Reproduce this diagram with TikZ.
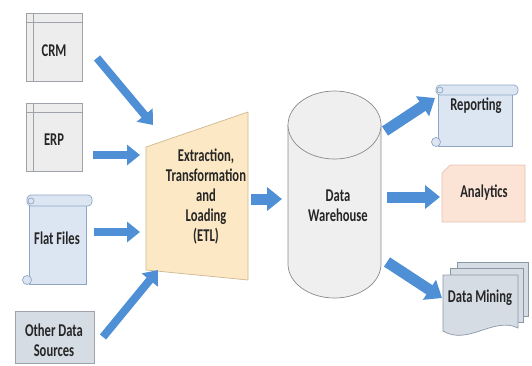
\documentclass[tikz,border=0pt]{standalone}
\usepackage{fontspec}
\setmainfont{Carlito}
\newfontfamily\lblfont{Carlito}[FakeStretch=0.7]
\usepackage{tikz}
\usetikzlibrary{arrows.meta}

\definecolor{flowblue}{HTML}{4F8FD5}
\definecolor{textdark}{HTML}{262626}
\definecolor{storefill}{HTML}{EDEDED}
\definecolor{storeline}{HTML}{9EA3AA}
\definecolor{scrollfill}{HTML}{DCE6F2}
\definecolor{scrollline}{HTML}{8EA6C4}
\definecolor{etlfill}{HTML}{FCE8C4}
\definecolor{etlline}{HTML}{CDB98F}
\definecolor{dwfill}{HTML}{EFEFEF}
\definecolor{dwline}{HTML}{8A8A8A}
\definecolor{cardfill}{HTML}{FBE3D6}
\definecolor{cardline}{HTML}{E6C5B2}
\definecolor{docfill}{HTML}{D6DCE4}
\definecolor{docline}{HTML}{8C97A6}

\begin{document}
\begin{tikzpicture}[x=1pt,y=-1pt,
  lbl/.style={font=\lblfont\bfseries\fontsize{18}{20}\selectfont,text=textdark,align=center,inner sep=0pt},
  store/.style={fill=storefill,draw=storeline,line width=0.7pt},
  scroll/.style={fill=scrollfill,draw=scrollline,line width=0.7pt},
  doc/.style={fill=docfill,draw=docline,line width=0.7pt},
  flow/.style={flowblue,line width=8pt,-{Triangle[length=13pt,width=20pt]}},
  bigflow/.style={flowblue,line width=11pt,-{Triangle[length=15pt,width=23pt]}}]

\useasboundingbox (0,0) rectangle (532,365);

% sources
\draw[store] (26,13) rectangle (82,81);
\draw[storeline,line width=0.7pt] (33,13) -- (33,81);
\draw[storeline,line width=0.7pt] (26,22) -- (82,22);
\draw[store] (26,103) rectangle (82,171);
\draw[storeline,line width=0.7pt] (33,103) -- (33,171);
\draw[storeline,line width=0.7pt] (26,112) -- (82,112);

\draw[scroll] (29,200) rectangle (86,284);
\draw[scroll,rounded corners=4pt] (27,195) rectangle (92,206);
\draw[scroll] (31,201) circle (3);
\draw[scroll] (27,280) circle (4.5);

\draw[fill=docfill,draw=storeline,line width=0.7pt] (15,311) rectangle (94,363);

\node[lbl] (crm) at (54,51) {CRM};
\node[lbl] (erp) at (54,140) {ERP};
\node[lbl] (flat) at (57,238) {Flat Files};
\node[lbl] (other) at (54,340) {Other Data\\Sources};

% ETL
\draw[fill=etlfill,draw=etlline,line width=0.7pt] (146,147) -- (248,112) -- (248,280) -- (146,270) -- cycle;
\node[lbl] (etl) at (206,197) {Extraction,\\Transformation\\and\\Loading\\(ETL)};

% warehouse
\draw[fill=dwfill,draw=dwline,line width=0.7pt] (288,125) -- (288,264)
  arc[start angle=180,end angle=360,x radius=46.5pt,y radius=34pt] -- (381,125);
\draw[fill=dwfill,draw=dwline,line width=0.7pt] (334.5,125) ellipse (46.5pt and 34pt);
\node[lbl] (dw) at (338,206) {Data\\Warehouse};

% targets
\draw[scroll] (438,90) rectangle (512,146);
\draw[scroll,rounded corners=4pt] (436,85) rectangle (518,95);
\draw[scroll] (440,90) circle (3);
\draw[scroll] (436,142) circle (4.5);
\node[lbl] (rep) at (476,106) {Reporting};

\draw[fill=cardfill,draw=cardline,line width=0.7pt] (450,165) -- (525,165) -- (525,222) -- (442,222) -- (442,173) -- cycle;
\node[lbl] (ana) at (484,193) {Analytics};

\draw[doc] (457,262) rectangle (528,316);
\draw[doc] (450,268) rectangle (523,322);
\draw[doc] (443,275) -- (518,275) -- (518,328)
  .. controls (494,316) and (468,346) .. (443,331) -- cycle;
\node[lbl] (dm) at (480,298) {Data Mining};

% arrows
\coordinate (crm-out) at (97,58);
\coordinate (etl-a) at (153,125);
\coordinate (erp-out) at (93,155);
\coordinate (etl-b) at (140,155);
\coordinate (flat-out) at (94,232);
\coordinate (etl-c) at (140,232);
\coordinate (other-out) at (103,337);
\coordinate (etl-d) at (158,270);
\coordinate (etl-out) at (251,199);
\coordinate (dw-in) at (282,199);
\coordinate (dw-a) at (385,131);
\coordinate (rep-in) at (435,98);
\coordinate (dw-b) at (387,197);
\coordinate (ana-in) at (440,197);
\coordinate (dw-c) at (387,262);
\coordinate (dm-in) at (442,298);

\draw[flow] (crm-out) -- (etl-a);
\draw[flow] (erp-out) -- (etl-b);
\draw[flow] (flat-out) -- (etl-c);
\draw[flow] (other-out) -- (etl-d);
\draw[bigflow] (etl-out) -- (dw-in);
\draw[bigflow] (dw-a) -- (rep-in);
\draw[bigflow] (dw-b) -- (ana-in);
\draw[bigflow] (dw-c) -- (dm-in);

\end{tikzpicture}
\end{document}
